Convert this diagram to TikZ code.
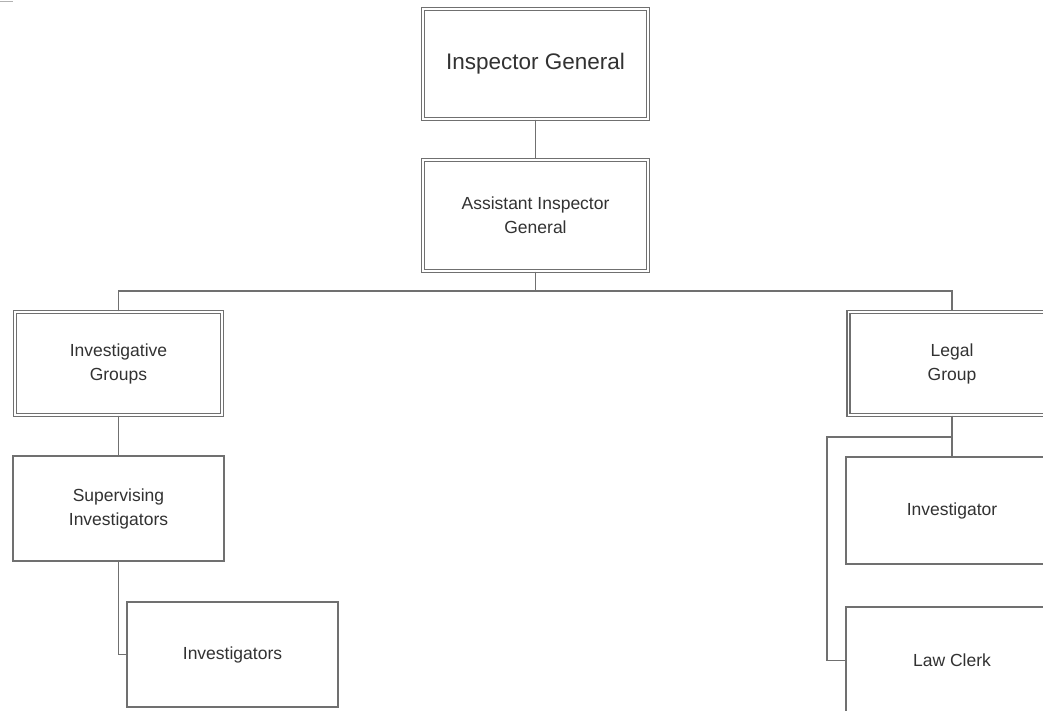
\documentclass[tikz,border=0pt]{standalone}
\usepackage{fontspec}
\setmainfont{Liberation Sans}
\definecolor{linegray}{RGB}{112,112,112}
\definecolor{txtgray}{RGB}{50,50,50}
\tikzset{
  box/.style={draw=linegray, line width=1.4pt, rectangle, inner sep=0pt, align=center,
    text=txtgray, font=\fontsize{17.5}{24}\selectfont},
  dbox/.style={box, line width=1.3pt, double=white, double distance=1.8pt},
  conn/.style={draw=linegray, line width=1.2pt}
}
\begin{document}
\begin{tikzpicture}[x=1pt,y=-1pt]
\useasboundingbox (0,0) rectangle (1043,711);
\clip (0,0) rectangle (1043,711);
\fill[white] (0,0) rectangle (1043,711);
\draw[gray!60, line width=1.2pt] (0,1.5) -- (13,1.5);

\node[dbox, minimum width=225pt, minimum height=110pt, font=\fontsize{22.5}{28}\selectfont] (ig) at (535.5,64) {Inspector General};
\node[dbox, minimum width=225pt, minimum height=111pt] (aig) at (535.5,215.5) {Assistant Inspector\\General};
\node[dbox, minimum width=207pt, minimum height=103pt] (invg) at (118.5,363.5) {Investigative\\Groups};
\node[dbox, minimum width=207pt, minimum height=103pt] (legal) at (952,363.5) {Legal\\Group};
\node[box, minimum width=211pt, minimum height=105pt] (sup) at (118.5,508.5) {Supervising\\Investigators};
\node[box, minimum width=211pt, minimum height=105pt] (invs) at (232.5,654.5) {Investigators};
\node[box, minimum width=212pt, minimum height=107pt] (inv) at (952,510.5) {Investigator};
\node[box, minimum width=212pt, minimum height=107pt] (clerk) at (952,660.5) {Law Clerk};

\coordinate (bus) at (535.5,291);
\coordinate (lsplit) at (952,437);
\coordinate (lleft) at (827,437);

\draw[conn] (ig.south) -- (aig.north);
\draw[conn] (aig.south) -- (bus);
\draw[conn] (invg.north) |- (bus) -| (legal.north);
\draw[conn] (invg.south) -- (sup.north);
\draw[conn] (sup.south) |- (invs.west);
\draw[conn] (legal.south) -- (inv.north);
\draw[conn] (lsplit) -- (lleft) |- (clerk.west);
\end{tikzpicture}
\end{document}
